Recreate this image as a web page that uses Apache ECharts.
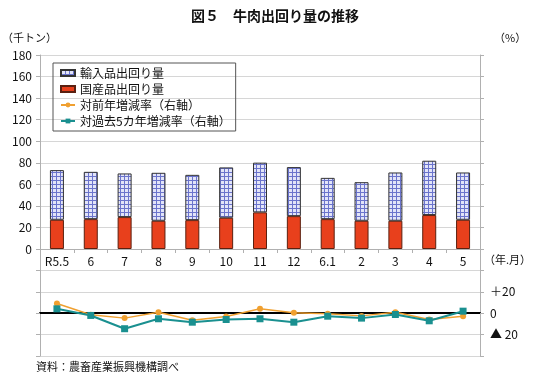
<!DOCTYPE html>
<html><head><meta charset="utf-8">
<script src="https://cdn.jsdelivr.net/npm/echarts@6/dist/echarts.min.js"></script>
<style>html,body{margin:0;padding:0;background:#fff}#c{width:550px;height:380px}</style>
</head><body><div id="c"></div>
<script>
const categories = ['R5.5','6','7','8','9','10','11','12','6.1','2','3','4','5'];
const domestic = [27.1,27.7,29.6,26.2,26.8,29.0,34.0,30.5,27.7,26.2,26.2,31.5,27.1];
const imported = [46.1,43.9,40.5,44.5,42.0,46.7,46.1,45.5,38.3,35.8,44.8,50.4,43.9];
const yoy = [9.0,-1.5,-4.6,0.9,-6.5,-3.1,4.1,0.4,-0.6,-2.5,0.9,-5.9,-2.8];
const vs5y = [4.1,-2.1,-14.5,-5.2,-8.4,-5.9,-5.2,-8.4,-2.8,-4.6,-1.2,-7.1,1.9];
const rightTickLabels = {'20':'＋20','0':'0','-20':'▲ 20'};

const FONT = '"Noto Sans CJK JP", sans-serif';
const pc = document.createElement('canvas');
pc.width = 4; pc.height = 4;
const g = pc.getContext('2d');
g.fillStyle = '#e2e4f8'; g.fillRect(0,0,4,4);
g.fillStyle = '#6b74cc'; g.fillRect(0,0,4,1); g.fillRect(0,0,1,4);
const pattern = {image: pc, repeat: 'repeat'};

const gray = '#b0b0b0';
const chart = echarts.init(document.getElementById('c'));
chart.setOption({
  animation: false,
  textStyle: {fontFamily: FONT},
  title: {text: '図５　牛肉出回り量の推移', left: 'center', top: 4,
    textStyle: {fontFamily: FONT, fontSize: 14, fontWeight: 'bold', color: '#111'}},
  grid: [
    {left: 40, right: 70, top: 55, height: 194},
    {left: 40, right: 70, top: 249, bottom: 24}
  ],
  legend: {
    orient: 'vertical', left: 53, top: 63,
    borderColor: '#555', borderWidth: 1, padding: [4, 5, 4, 7], itemGap: 4,
    itemWidth: 14, itemHeight: 6,
    textStyle: {fontFamily: FONT, fontSize: 12, color: '#111'},
    data: [
      {name: '輸入品出回り量', icon: 'rect'},
      {name: '国産品出回り量', icon: 'rect'},
      '対前年増減率（右軸）', '対過去5カ年増減率（右軸）'
    ]
  },
  xAxis: [{
    gridIndex: 0, type: 'category', data: categories, position: 'bottom',
    axisLine: {lineStyle: {color: gray}},
    axisTick: {show: true, length: 4, lineStyle: {color: gray}},
    axisLabel: {color: '#111', fontSize: 12, margin: 6, fontFamily: FONT}
  }, {
    gridIndex: 1, type: 'category', data: categories, position: 'bottom',
    axisLine: {onZero: true, lineStyle: {color: '#000', width: 2}},
    axisTick: {show: false}, axisLabel: {show: false}
  }],
  yAxis: [{
    gridIndex: 0, type: 'value', min: 0, max: 180, interval: 20,
    axisLine: {show: true, lineStyle: {color: gray}},
    axisTick: {show: true, length: 4, lineStyle: {color: gray}},
    splitLine: {lineStyle: {color: '#d6d6d6'}},
    axisLabel: {color: '#111', fontSize: 12, margin: 8, fontFamily: FONT}
  }, {
    gridIndex: 0, type: 'value', min: 0, max: 180, interval: 20, position: 'right',
    axisLine: {show: true, lineStyle: {color: gray}},
    axisTick: {show: true, length: 4, lineStyle: {color: gray}},
    splitLine: {show: false}, axisLabel: {show: false}
  }, {
    gridIndex: 1, type: 'value', min: -40, max: 60, interval: 20, position: 'left',
    axisLine: {show: true, lineStyle: {color: gray}},
    axisTick: {show: true, length: 4, lineStyle: {color: gray}},
    splitLine: {lineStyle: {color: '#d6d6d6'}}, axisLabel: {show: false}
  }, {
    gridIndex: 1, type: 'value', min: -40, max: 60, interval: 20, position: 'right',
    axisLine: {show: true, lineStyle: {color: gray}},
    axisTick: {show: true, length: 4, lineStyle: {color: gray}},
    splitLine: {show: false},
    axisLabel: {color: '#111', fontSize: 12, margin: 10, fontFamily: FONT,
      formatter: v => rightTickLabels[String(v)] || ''}
  }],
  series: [
    {name: '国産品出回り量', type: 'bar', stack: 't', data: domestic, barWidth: 14,
      xAxisIndex: 0, yAxisIndex: 0,
      itemStyle: {color: '#e8401c', borderColor: '#5a2010', borderWidth: 1}},
    {name: '輸入品出回り量', type: 'bar', stack: 't', data: imported, barWidth: 14,
      xAxisIndex: 0, yAxisIndex: 0,
      itemStyle: {color: pattern, borderColor: '#333', borderWidth: 1}},
    {name: '対前年増減率（右軸）', type: 'line', xAxisIndex: 1, yAxisIndex: 3, data: yoy,
      symbol: 'circle', symbolSize: 6, color: '#f0a030',
      lineStyle: {width: 1.5, color: '#f0a030'}, itemStyle: {color: '#f0a030'}},
    {name: '対過去5カ年増減率（右軸）', type: 'line', xAxisIndex: 1, yAxisIndex: 3, data: vs5y,
      symbol: 'rect', symbolSize: 7, color: '#1a9090',
      lineStyle: {width: 2, color: '#1a9090'}, itemStyle: {color: '#1a9090'}}
  ],
  graphic: [
    {type: 'text', left: 2, top: 32, style: {text: '（千トン）', font: '11px ' + FONT, fill: '#111'}},
    {type: 'text', left: 494, top: 32, style: {text: '（%）', font: '11px ' + FONT, fill: '#111'}},
    {type: 'text', left: 484, top: 254, style: {text: '（年.月）', font: '11px ' + FONT, fill: '#111'}},
    {type: 'text', left: 36, top: 361, style: {text: '資料：農畜産業振興機構調べ', font: '11px ' + FONT, fill: '#111'}}
  ]
});
</script></body></html>
